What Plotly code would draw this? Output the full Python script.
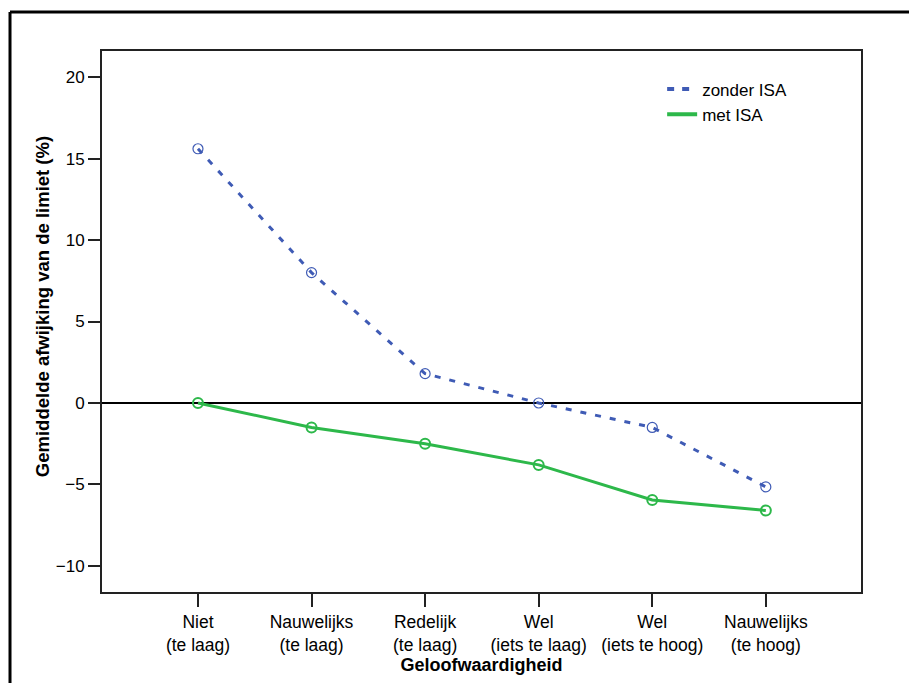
import plotly.graph_objects as go

categories = ["Niet<br>(te laag)", "Nauwelijks<br>(te laag)", "Redelijk<br>(te laag)",
              "Wel<br>(iets te laag)", "Wel<br>(iets te hoog)", "Nauwelijks<br>(te hoog)"]
zonder_isa = [15.6, 8.0, 1.8, 0.0, -1.5, -5.15]
met_isa = [0.0, -1.5, -2.5, -3.8, -5.95, -6.6]
y_ticks = [-10, -5, 0, 5, 10, 15, 20]

xi = list(range(len(categories)))
BLUE = "#3F5BB5"
GREEN = "#2DB84A"

fig = go.Figure()
fig.add_trace(go.Scatter(
    x=xi, y=zonder_isa, name="zonder ISA", mode="lines+markers", showlegend=False,
    line=dict(color=BLUE, width=3, dash="6px,9px"),
    marker=dict(symbol="circle-open", size=10, color=BLUE, line=dict(width=1.2)),
))
fig.add_trace(go.Scatter(
    x=xi, y=met_isa, name="met ISA", mode="lines+markers", showlegend=False,
    line=dict(color=GREEN, width=3),
    marker=dict(symbol="circle-open", size=10, color=GREEN, line=dict(width=2)),
))
# legend entries (lines only, as in the reference)
fig.add_trace(go.Scatter(x=[None], y=[None], name="zonder ISA", mode="lines",
                         line=dict(color=BLUE, width=4, dash="7px,8px")))
fig.add_trace(go.Scatter(x=[None], y=[None], name="met ISA", mode="lines",
                         line=dict(color=GREEN, width=4)))

fig.update_layout(
    width=917, height=683,
    margin=dict(l=94, r=64, t=43, b=99),
    paper_bgcolor="white", plot_bgcolor="white",
    font=dict(family="Liberation Sans, Arial", size=17, color="black"),
    legend=dict(x=0.738, y=0.962, xanchor="left", yanchor="top",
                bgcolor="rgba(0,0,0,0)", font=dict(size=17), tracegroupgap=0),
    xaxis=dict(
        range=[-0.845, 5.838], tickmode="array", tickvals=xi, ticktext=categories,
        ticks="outside", ticklen=13, tickwidth=2, tickcolor="#222",
        showline=True, linecolor="#222", linewidth=2, mirror=True,
        showgrid=False, zeroline=False,
        title=dict(text="<b>Geloofwaardigheid</b>", font=dict(size=18), standoff=4),
        tickfont=dict(size=17.5),
    ),
    yaxis=dict(
        range=[-11.6, 21.6], tickmode="array", tickvals=y_ticks,
        ticks="outside", ticklen=12, tickwidth=2, tickcolor="#222",
        showline=True, linecolor="#222", linewidth=2, mirror=True,
        showgrid=False, zeroline=True, zerolinecolor="black", zerolinewidth=1.5,
        tickfont=dict(size=17),
    ),
)

# y-axis title as rotated annotation
fig.add_annotation(text="<b>Gemiddelde afwijking van de limiet (%)</b>", textangle=-90,
                   xref="paper", yref="paper", x=-0.078, y=0.528, xanchor="center", yanchor="middle",
                   showarrow=False, font=dict(size=18.5))

# outer frame (top and left edges)
fig.add_shape(type="line", xref="paper", yref="paper", x0=-0.1212, x1=1.2, y0=1.0721, y1=1.0721,
              line=dict(color="black", width=3))
fig.add_shape(type="line", xref="paper", yref="paper", x0=-0.1212, x1=-0.1212, y0=1.0721, y1=-0.25,
              line=dict(color="black", width=3))

fig.write_html("out.html")
